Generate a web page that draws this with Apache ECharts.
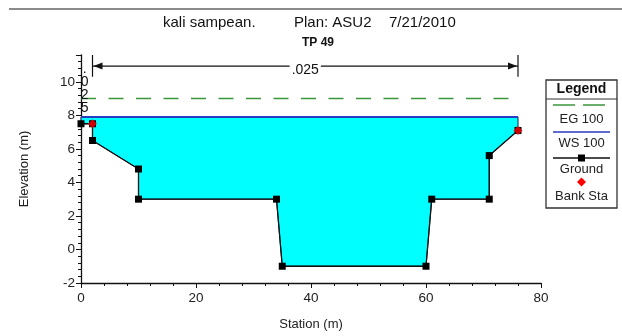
<!DOCTYPE html>
<html><head><meta charset="utf-8">
<script src="https://cdn.jsdelivr.net/npm/echarts@6/dist/echarts.min.js"></script>
<style>html,body{margin:0;padding:0;background:#fff}#c{width:622px;height:336px}</style>
</head><body><div id="c"></div>
<script>
// ---- data ----
const groundStation = [0, 2, 2, 10, 10, 34, 35, 60, 61, 71, 71, 76];
const groundElev    = [7.5, 7.5, 6.5, 4.8, 3, 3, -1, -1, 3, 3, 5.6, 7.1];
const bankStation = [2, 76];
const bankElev    = [7.5, 7.1];
const wsElev = 7.9;
const egElev = 9.0;
const nBreaks = [0, 2, 76];
const nValues = ['.025', '.025'];
const titleParts = ['kali sampean.', 'Plan: ASU2', '7/21/2010'];
const subTitle = 'TP 49';
const legendNames = ['EG 100', 'WS 100', 'Ground', 'Bank Sta'];
const xTickInterval = 20, xMin = 0, xMax = 80;
const yTickInterval = 2, yMin = -2, yMax = 11.6;

// ---- styles ----
const FONT = 'Liberation Sans, Arial, sans-serif';
const EG_COLOR = '#3a963a', WS_COLOR = '#2a3cc4', FILL = '#00ffff', BANK = '#ff0000';
const nArrowElev = 10.94, nBarBottom = 10.3;

const groundData = groundStation.map((s, i) => [s, groundElev[i]]);
const bankData = bankStation.map((s, i) => [s, bankElev[i]]);
const reachStart = groundStation[0], reachEnd = groundStation[groundStation.length - 1];

function renderWater(params, api) {
  const pts = [api.coord([reachStart, wsElev]), api.coord([reachEnd, wsElev])];
  for (let i = groundData.length - 1; i >= 0; i--) pts.push(api.coord(groundData[i]));
  return { type: 'polygon', shape: { points: pts },
    style: { fill: FILL, stroke: '#1a1a3a', lineWidth: 1 } };
}

function renderN(params, api) {
  const ch = [];
  const ya = api.coord([0, nArrowElev])[1];
  const yt = api.coord([0, yMax])[1];
  const yb = api.coord([0, nBarBottom])[1];
  const xl = api.coord([nBreaks[1], 0])[0];
  const xr = api.coord([nBreaks[2], 0])[0];
  const ls = { stroke: '#111', lineWidth: 1.2 };
  ch.push({ type: 'line', shape: { x1: xl, y1: yt, x2: xl, y2: yb }, style: ls });
  ch.push({ type: 'line', shape: { x1: xr, y1: yt, x2: xr, y2: yb }, style: ls });
  ch.push({ type: 'line', shape: { x1: xl, y1: ya, x2: xr, y2: ya }, style: ls });
  ch.push({ type: 'polygon', shape: { points: [[xl + 1, ya], [xl + 10, ya - 3.5], [xl + 10, ya + 3.5]] }, style: { fill: '#111' } });
  ch.push({ type: 'polygon', shape: { points: [[xr - 1, ya], [xr - 10, ya - 3.5], [xr - 10, ya + 3.5]] }, style: { fill: '#111' } });
  ch.push({ type: 'text', style: { text: nValues[1], x: (xl + xr) / 2, y: ya + 4, align: 'center', verticalAlign: 'middle',
    font: '14px ' + FONT, fill: '#111', backgroundColor: '#fff', padding: [0, 2] } });
  const xLob = api.coord([(nBreaks[0] + nBreaks[1]) / 2, 0])[0] - 2;
  ch.push({ type: 'text', style: { text: nValues[0].split('').join('\n'), x: xLob, y: api.coord([0, 9.62])[1],
    align: 'center', verticalAlign: 'middle', lineHeight: 13, font: '14px ' + FONT, fill: '#111' } });
  return { type: 'group', children: ch };
}

// ---- legend graphics ----
const LX = 546, LW = 71, LCX = LX + LW / 2;
const legendTextY = [119, 143, 169, 196];
const legendGraphic = [
  { type: 'rect', shape: { x: LX, y: 80, width: LW, height: 128 }, style: { fill: '#fff', stroke: '#333', lineWidth: 1.3 } },
  { type: 'line', shape: { x1: LX, y1: 99, x2: LX + LW, y2: 99 }, style: { stroke: '#333', lineWidth: 1 } },
  { type: 'text', style: { text: 'Legend', x: LCX, y: 89, align: 'center', verticalAlign: 'middle', font: 'bold 14px ' + FONT, fill: '#111' } },
  { type: 'line', shape: { x1: 553, y1: 105, x2: 605, y2: 105 }, style: { stroke: EG_COLOR, lineWidth: 1.5, lineDash: [22, 8] } },
  { type: 'line', shape: { x1: 553, y1: 132, x2: 610, y2: 132 }, style: { stroke: WS_COLOR, lineWidth: 1.5 } },
  { type: 'line', shape: { x1: 553, y1: 158, x2: 610, y2: 158 }, style: { stroke: '#111', lineWidth: 1.5 } },
  { type: 'rect', shape: { x: LCX - 3.5, y: 154.5, width: 7, height: 7 }, style: { fill: '#000' } },
  { type: 'polygon', shape: { points: [[LCX, 177.5], [LCX + 4.5, 182], [LCX, 186.5], [LCX - 4.5, 182]] }, style: { fill: BANK } }
];
legendNames.forEach((n, i) => legendGraphic.push({ type: 'text', style: { text: n, x: LCX, y: legendTextY[i],
  align: 'center', verticalAlign: 'middle', font: '13px ' + FONT, fill: '#222' } }));
legendGraphic.push({ type: 'line', shape: { x1: 9, y1: 9, x2: 622, y2: 9 }, style: { stroke: '#8a8a8a', lineWidth: 2 } });

const chart = echarts.init(document.getElementById('c'), null, { renderer: 'canvas' });
const tStyle = { fontFamily: FONT, fontSize: 15, fontWeight: 'normal', color: '#111' };
chart.setOption({
  animation: false,
  title: [
    { text: titleParts[0], left: 163, top: 15, padding: 0, textStyle: tStyle },
    { text: titleParts[1], left: 294, top: 15, padding: 0, textStyle: tStyle },
    { text: titleParts[2], left: 389, top: 15, padding: 0, textStyle: tStyle },
    { text: subTitle, left: 302, top: 37, padding: 0, textStyle: { fontFamily: FONT, fontSize: 12, fontWeight: 'bold', color: '#111' } }
  ],
  grid: { left: 81, right: 81, top: 55, bottom: 49, containLabel: false },
  xAxis: {
    type: 'value', min: xMin, max: xMax, interval: xTickInterval,
    name: 'Station (m)', nameLocation: 'middle', nameGap: 35,
    nameTextStyle: { fontFamily: FONT, fontSize: 13, color: '#222' },
    axisLine: { show: true, onZero: false, lineStyle: { color: '#111', width: 1.3 } },
    axisTick: { show: true, length: 5, lineStyle: { color: '#111' } },
    minorTick: { show: true, splitNumber: 5, length: 3, lineStyle: { color: '#111' } },
    splitLine: { show: false },
    axisLabel: { fontFamily: FONT, fontSize: 13.5, color: '#222', margin: 8 }
  },
  yAxis: {
    type: 'value', min: yMin, max: yMax, interval: yTickInterval,
    name: 'Elevation (m)', nameLocation: 'middle', nameGap: 50, nameRotate: 90,
    nameTextStyle: { fontFamily: FONT, fontSize: 13, color: '#222' },
    axisLine: { show: true, onZero: false, lineStyle: { color: '#111', width: 1.3 } },
    axisTick: { show: true, length: 5, lineStyle: { color: '#111' } },
    minorTick: { show: true, splitNumber: 5, length: 3, lineStyle: { color: '#111' } },
    splitLine: { show: false },
    axisLabel: { fontFamily: FONT, fontSize: 13.5, color: '#222', margin: 6,
      formatter: v => (Math.abs(v % yTickInterval) < 1e-9 ? String(v) : '') }
  },
  graphic: legendGraphic,
  series: [
    { type: 'custom', name: 'water', renderItem: renderWater, data: [[reachStart, wsElev]], z: 1, silent: true },
    { type: 'line', name: legendNames[0], data: [[reachStart, egElev], [reachEnd, egElev]], symbol: 'none', z: 3,
      lineStyle: { color: EG_COLOR, width: 1.5, type: [15, 12.5] } },
    { type: 'line', name: legendNames[1], data: [[reachStart, wsElev], [reachEnd, wsElev]], symbol: 'none', z: 3,
      lineStyle: { color: WS_COLOR, width: 2 } },
    { type: 'line', name: legendNames[2], data: groundData, symbol: 'rect', symbolSize: 7, z: 4,
      lineStyle: { color: '#111', width: 1.3 }, itemStyle: { color: '#000' } },
    { type: 'scatter', name: legendNames[3], data: bankData, symbol: 'diamond', symbolSize: 9, z: 5,
      itemStyle: { color: BANK } },
    { type: 'custom', name: 'n', renderItem: renderN, data: [[39, nArrowElev]], z: 6, clip: false, silent: true }
  ]
});
</script></body></html>
